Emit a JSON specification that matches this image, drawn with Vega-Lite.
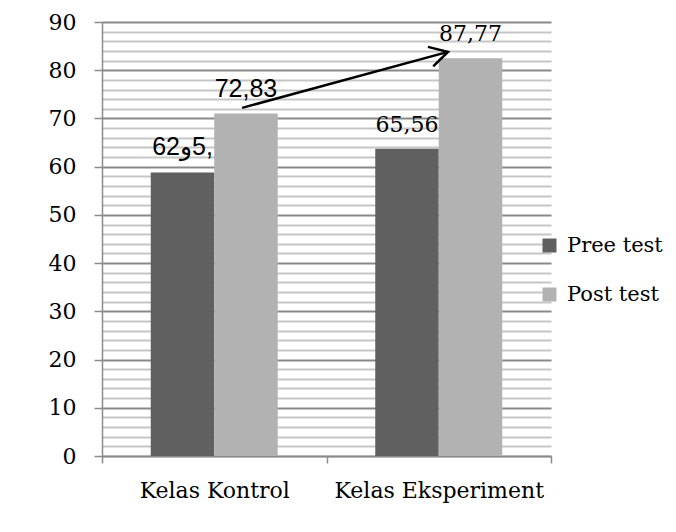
{
  "$schema": "https://vega.github.io/schema/vega-lite/v6.json",
  "width": 449,
  "height": 434,
  "autosize": "none",
  "padding": {"left": 102, "top": 22, "right": 125, "bottom": 76},
  "background": "white",
  "config": {"view": {"stroke": null}},
  "datasets": {
    "scores": [
      {"kelas": "Kelas Kontrol", "test": "Pree test", "value": 58.8, "label": "62و‎5,"},
      {"kelas": "Kelas Kontrol", "test": "Post test", "value": 71.0, "label": "72,83"},
      {"kelas": "Kelas Eksperiment", "test": "Pree test", "value": 63.7, "label": "65,56"},
      {"kelas": "Kelas Eksperiment", "test": "Post test", "value": 82.5, "label": "87,77"}
    ],
    "arrow": [
      {"x0": 0.624, "y0": 72.2, "x1": 1.541, "y1": 83.8}
    ]
  },
  "layer": [
    {
      "data": {"name": "scores"},
      "layer": [
        {
          "mark": {"type": "bar"},
          "encoding": {
            "x": {
              "field": "kelas", "type": "nominal",
              "sort": ["Kelas Kontrol", "Kelas Eksperiment"],
              "scale": {"paddingInner": 0, "paddingOuter": 0},
              "axis": {
                "title": null, "labelAngle": 0, "tickBand": "extent",
                "tickSize": 7, "tickColor": "#8a8a8a", "tickWidth": 1.5,
                "domainColor": "#8a8a8a", "domainWidth": 1.5,
                "labelFont": "DejaVu Serif", "labelFontSize": 22, "labelColor": "#000000",
                "labelPadding": 17, "labelLimit": 400
              }
            },
            "xOffset": {
              "field": "test", "type": "nominal",
              "sort": ["Pree test", "Post test"],
              "scale": {"paddingInner": 0, "paddingOuter": 0.768}
            },
            "y": {
              "field": "value", "type": "quantitative",
              "scale": {"domain": [0, 90], "nice": false},
              "axis": {
                "title": null,
                "values": [0,2,4,6,8,10,12,14,16,18,20,22,24,26,28,30,32,34,36,38,40,42,44,46,48,50,52,54,56,58,60,62,64,66,68,70,72,74,76,78,80,82,84,86,88,90],
                "labelExpr": "datum.value % 10 === 0 ? datum.label : ''",
                "labelOverlap": false,
                "grid": true,
                "gridColor": {"condition": {"test": "datum.value % 10 === 0", "value": "#898989"}, "value": "#c6c6c6"},
                "gridWidth": 2,
                "tickSize": 8, "tickColor": "#8a8a8a", "tickWidth": 1.5,
                "tickOpacity": {"condition": {"test": "datum.value % 10 === 0", "value": 1}, "value": 0},
                "domainColor": "#8a8a8a", "domainWidth": 1.5,
                "labelFont": "DejaVu Serif", "labelFontSize": 22, "labelColor": "#000000",
                "labelPadding": 18
              }
            },
            "color": {
              "field": "test", "type": "nominal",
              "sort": ["Pree test", "Post test"],
              "scale": {"domain": ["Pree test", "Post test"], "range": ["#606060", "#b2b2b2"]},
              "legend": {
                "title": null, "orient": "none", "legendX": 437, "legendY": 213,
                "symbolType": "square", "symbolSize": 196, "symbolStrokeWidth": 0,
                "symbolOpacity": 1,
                "labelFont": "DejaVu Serif", "labelFontSize": 21, "labelColor": "#000000",
                "labelOffset": 7, "rowPadding": 27, "padding": 0
              }
            }
          }
        },
        {
          "transform": [{"filter": "datum.kelas === 'Kelas Kontrol'"}],
          "mark": {"type": "text", "font": "Liberation Sans", "fontSize": 25, "dy": -17, "baseline": "alphabetic", "align": "center", "color": "#000000"},
          "encoding": {
            "x": {"field": "kelas", "type": "nominal", "sort": ["Kelas Kontrol", "Kelas Eksperiment"]},
            "xOffset": {"field": "test", "type": "nominal", "sort": ["Pree test", "Post test"]},
            "y": {
              "field": "value", "type": "quantitative",
              "scale": {"domain": [0, 90], "nice": false},
              "axis": {
                "title": null,
                "values": [0,2,4,6,8,10,12,14,16,18,20,22,24,26,28,30,32,34,36,38,40,42,44,46,48,50,52,54,56,58,60,62,64,66,68,70,72,74,76,78,80,82,84,86,88,90],
                "labelExpr": "datum.value % 10 === 0 ? datum.label : ''",
                "labelOverlap": false,
                "grid": true,
                "gridColor": {"condition": {"test": "datum.value % 10 === 0", "value": "#898989"}, "value": "#c6c6c6"},
                "gridWidth": 2,
                "tickSize": 8, "tickColor": "#8a8a8a", "tickWidth": 1.5,
                "tickOpacity": {"condition": {"test": "datum.value % 10 === 0", "value": 1}, "value": 0},
                "domainColor": "#8a8a8a", "domainWidth": 1.5,
                "labelFont": "DejaVu Serif", "labelFontSize": 22, "labelColor": "#000000",
                "labelPadding": 18
              }
            },
            "text": {"field": "label"}
          }
        },
        {
          "transform": [{"filter": "datum.kelas === 'Kelas Eksperiment'"}],
          "mark": {"type": "text", "font": "DejaVu Serif", "fontSize": 22, "dy": -17, "baseline": "alphabetic", "align": "center", "color": "#000000"},
          "encoding": {
            "x": {"field": "kelas", "type": "nominal", "sort": ["Kelas Kontrol", "Kelas Eksperiment"]},
            "xOffset": {"field": "test", "type": "nominal", "sort": ["Pree test", "Post test"]},
            "y": {
              "field": "value", "type": "quantitative",
              "scale": {"domain": [0, 90], "nice": false},
              "axis": {
                "title": null,
                "values": [0,2,4,6,8,10,12,14,16,18,20,22,24,26,28,30,32,34,36,38,40,42,44,46,48,50,52,54,56,58,60,62,64,66,68,70,72,74,76,78,80,82,84,86,88,90],
                "labelExpr": "datum.value % 10 === 0 ? datum.label : ''",
                "labelOverlap": false,
                "grid": true,
                "gridColor": {"condition": {"test": "datum.value % 10 === 0", "value": "#898989"}, "value": "#c6c6c6"},
                "gridWidth": 2,
                "tickSize": 8, "tickColor": "#8a8a8a", "tickWidth": 1.5,
                "tickOpacity": {"condition": {"test": "datum.value % 10 === 0", "value": 1}, "value": 0},
                "domainColor": "#8a8a8a", "domainWidth": 1.5,
                "labelFont": "DejaVu Serif", "labelFontSize": 22, "labelColor": "#000000",
                "labelPadding": 18
              }
            },
            "text": {"field": "label"}
          }
        }
      ]
    },
    {
      "data": {"name": "arrow"},
      "layer": [
        {
          "mark": {"type": "rule", "stroke": "#000000", "strokeWidth": 2.5},
          "encoding": {
            "x": {"field": "x0", "type": "quantitative", "scale": {"domain": [0, 2], "nice": false, "zero": false}, "axis": null},
            "y": {
              "field": "y0", "type": "quantitative",
              "scale": {"domain": [0, 90], "nice": false},
              "axis": {
                "title": null,
                "values": [0,2,4,6,8,10,12,14,16,18,20,22,24,26,28,30,32,34,36,38,40,42,44,46,48,50,52,54,56,58,60,62,64,66,68,70,72,74,76,78,80,82,84,86,88,90],
                "labelExpr": "datum.value % 10 === 0 ? datum.label : ''",
                "labelOverlap": false,
                "grid": true,
                "gridColor": {"condition": {"test": "datum.value % 10 === 0", "value": "#898989"}, "value": "#c6c6c6"},
                "gridWidth": 2,
                "tickSize": 8, "tickColor": "#8a8a8a", "tickWidth": 1.5,
                "tickOpacity": {"condition": {"test": "datum.value % 10 === 0", "value": 1}, "value": 0},
                "domainColor": "#8a8a8a", "domainWidth": 1.5,
                "labelFont": "DejaVu Serif", "labelFontSize": 22, "labelColor": "#000000",
                "labelPadding": 18
              }
            },
            "x2": {"field": "x1"},
            "y2": {"field": "y1"}
          }
        },
        {
          "mark": {"type": "point", "shape": "M-1,-0.56L0,0L-1,0.56", "filled": false, "stroke": "#000000", "strokeWidth": 2.5, "size": 1296, "angle": 344.8, "opacity": 1},
          "encoding": {
            "x": {"field": "x1", "type": "quantitative", "scale": {"domain": [0, 2], "nice": false, "zero": false}, "axis": null},
            "y": {
              "field": "y1", "type": "quantitative",
              "scale": {"domain": [0, 90], "nice": false},
              "axis": {
                "title": null,
                "values": [0,2,4,6,8,10,12,14,16,18,20,22,24,26,28,30,32,34,36,38,40,42,44,46,48,50,52,54,56,58,60,62,64,66,68,70,72,74,76,78,80,82,84,86,88,90],
                "labelExpr": "datum.value % 10 === 0 ? datum.label : ''",
                "labelOverlap": false,
                "grid": true,
                "gridColor": {"condition": {"test": "datum.value % 10 === 0", "value": "#898989"}, "value": "#c6c6c6"},
                "gridWidth": 2,
                "tickSize": 8, "tickColor": "#8a8a8a", "tickWidth": 1.5,
                "tickOpacity": {"condition": {"test": "datum.value % 10 === 0", "value": 1}, "value": 0},
                "domainColor": "#8a8a8a", "domainWidth": 1.5,
                "labelFont": "DejaVu Serif", "labelFontSize": 22, "labelColor": "#000000",
                "labelPadding": 18
              }
            }
          }
        }
      ]
    }
  ],
  "resolve": {"scale": {"x": "independent"}}
}
